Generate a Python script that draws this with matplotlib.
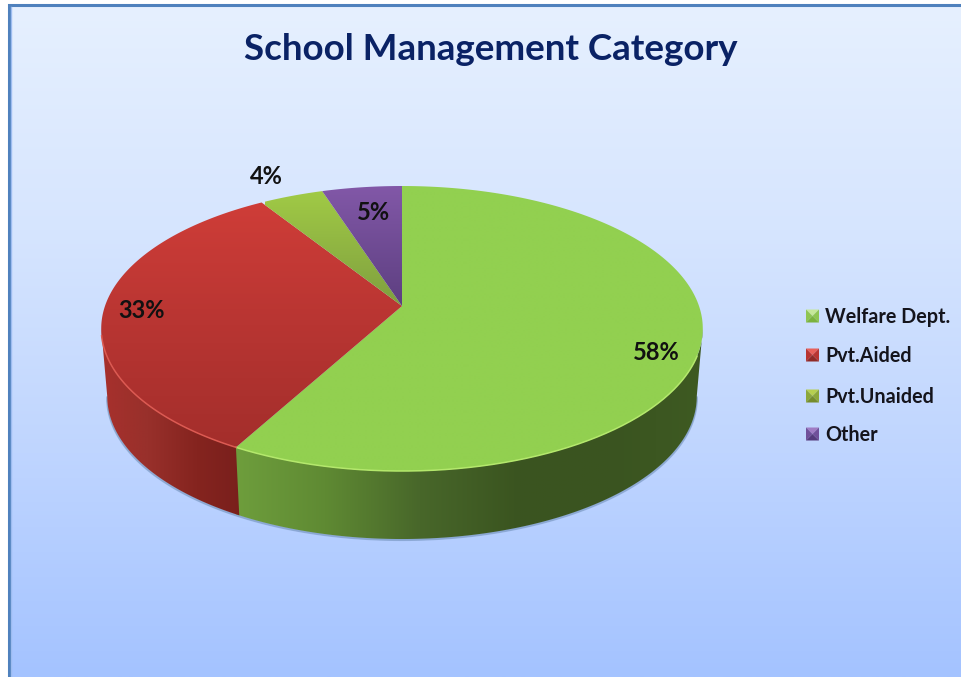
import numpy as np
import matplotlib
matplotlib.use("Agg")
import matplotlib.pyplot as plt
from matplotlib.colors import LinearSegmentedColormap as lsc
from matplotlib.patches import Polygon, Rectangle

titulo = "School Management Category"
categorias = ["Welfare Dept.", "Pvt.Aided", "Pvt.Unaided", "Other"]
valores = [58, 33, 4, 5]

plt.rcParams["font.family"] = ["Lato", "DejaVu Sans"]

W, H = 962, 677
fig = plt.figure(figsize=(W / 100, H / 100), dpi=100)
ax = fig.add_axes([0, 0, 1, 1])


# disco visto em perspectiva: angulo em graus a partir do topo, sentido horario
def projeta(ang, r=1.0, desce=0.0, escala=1.0):
    a = np.radians(ang)
    x = r * np.sin(a)
    t = -r * np.cos(a)
    d = 1 - 0.158 * t
    return 402 + escala * 297 * x / d, (306 + 90.6 * t) / d + desce


def gradiente(cores, extent, vertical, clip):
    cmap = lsc.from_list("g", cores)
    g = np.linspace(0, 1, 256)
    img = g.reshape(-1, 1) if vertical else g.reshape(1, -1)
    # extent com y invertido: primeira linha da imagem fica no topo
    im = ax.imshow(img, cmap=cmap, extent=extent, origin="upper", aspect="auto",
                   vmin=0, vmax=1, interpolation="bilinear", zorder=clip.get_zorder())
    ax.add_patch(clip)
    clip.set_visible(False)
    im.set_clip_path(clip)


# fundo
ax.add_patch(Rectangle((0, 0), W, H, color="white", zorder=0))
gradiente(["#e6f0ff", "#d6e5fe", "#bfd5ff", "#a4c3ff"], (10, W + 4, H, 6), True,
          Polygon([(10, 6), (W + 4, 6), (W + 4, H), (10, H)], zorder=1))
ax.plot([9, 9, W + 4], [H, 5, 5], color="#4f81bd", lw=2.2, zorder=2, solid_joinstyle="miter")
ax.plot([11.2, 11.2], [7, H], color="#9dbcf0", lw=1, zorder=2)

# angulos acumulados
limites = 360 * np.cumsum([0] + valores) / sum(valores)

# sombra da parede (99 e 261 sao os pontos extremos do contorno)
ang = np.linspace(99, 261, 200)
xs, ys = projeta(ang, desce=68, escala=0.98)
sx, sy = projeta(ang, desce=69.5, escala=0.982)
ax.fill(np.r_[sx, xs[::-1]], np.r_[sy, ys[::-1]], color="#6f8fb8", alpha=0.45, lw=0.8, zorder=3)

# paredes laterais (so as fatias da frente aparecem)
paredes = {
    0: ["#6f9f3d", "#5f8a33", "#48672a", "#3b5520", "#3a5420", "#3e5a22"],
    1: ["#a8302d", "#98302b", "#85241f", "#781f1c"],
}
extremos = {0: (230, 704), 1: (100, 245)}
for i, (a0, a1) in enumerate(zip(limites[:-1], limites[1:])):
    if i not in paredes:
        continue
    # a parede verde passa um pouco da divisa para nao abrir fresta
    fim = a1 + 0.6 if i == 0 else a1
    ang = np.linspace(max(a0, 99), min(fim, 261), 150)
    xt, yt = projeta(ang)
    xb, yb = projeta(ang, desce=68, escala=0.98)
    borda = Polygon(np.c_[np.r_[xt, xb[::-1]], np.r_[yt, yb[::-1]]], zorder=4)
    gradiente(paredes[i], (extremos[i][0], extremos[i][1], 545, 300), False, borda)

# fatias de cima
topos = [
    ["#92d050", "#92d050"],
    ["#cf3d38", "#b83532", "#a32e2b"],
    ["#a2cc46", "#7f9f3f"],
    ["#8258a8", "#5d3f80"],
]
caixas = [(230, 705, 472, 185), (100, 405, 450, 200), (265, 405, 306, 186), (322, 405, 306, 185)]
for i, (a0, a1) in enumerate(zip(limites[:-1], limites[1:])):
    ang = np.linspace(a0, a1, 200)
    xt, yt = projeta(ang)
    fatia = Polygon(np.c_[np.r_[402, xt], np.r_[306, yt]], zorder=5)
    gradiente(topos[i], caixas[i], True, fatia)

# fio claro na beira da frente
ang = np.linspace(110, limites[1], 150)
ax.plot(*projeta(ang), color="#b4e86c", lw=1.1, zorder=6)
ang = np.linspace(limites[1], 258, 80)
ax.plot(*projeta(ang), color="#dc5a52", lw=1.1, zorder=6)

# rotulos de dados
pos_rotulos = [(656, 353), (142, 310), (266, 176), (374, 213)]
for v, (x, y) in zip(valores, pos_rotulos):
    ax.text(x, y, "%d%%" % v, fontsize=17, fontweight="bold", color="#111111",
            ha="center", va="center", zorder=7)

# legenda
cores_leg = [
    ("#c6e89a", "#8fc552", "#7bb23e"),
    ("#e8605a", "#b83532", "#8f2a27"),
    ("#b6cf50", "#8ca73a", "#758c2c"),
    ("#a07cc4", "#70509a", "#553b7c"),
]
pos_y = [316, 355, 396, 434]
for nome, (c1, c2, c3), y in zip(categorias, cores_leg, pos_y):
    x0, x1, y0, y1 = 806, 819, y - 6.5, y + 6.5
    mx, my = (x0 + x1) / 2, (y0 + y1) / 2
    ax.add_patch(Polygon([(x0, y0), (x1, y0), (mx, my)], color=c1, lw=0, zorder=7))
    ax.add_patch(Polygon([(x0, y0), (x0, y1), (mx, my)], color=c2, lw=0, zorder=7))
    ax.add_patch(Polygon([(x1, y0), (x1, y1), (mx, my)], color=c2, lw=0, zorder=7))
    ax.add_patch(Polygon([(x0, y1), (x1, y1), (mx, my)], color=c3, lw=0, zorder=7))
    ax.text(825, y + 1, nome, fontsize=14.2, fontweight="bold", color="#14141c",
            ha="left", va="center", zorder=7)

ax.text(491, 50, titulo, fontsize=26.5, fontweight="bold", color="#0a2265",
        ha="center", va="center", zorder=7)

ax.set_xlim(0, W)
ax.set_ylim(H, 0)
ax.axis("off")
fig.savefig("out.png", dpi=100)
